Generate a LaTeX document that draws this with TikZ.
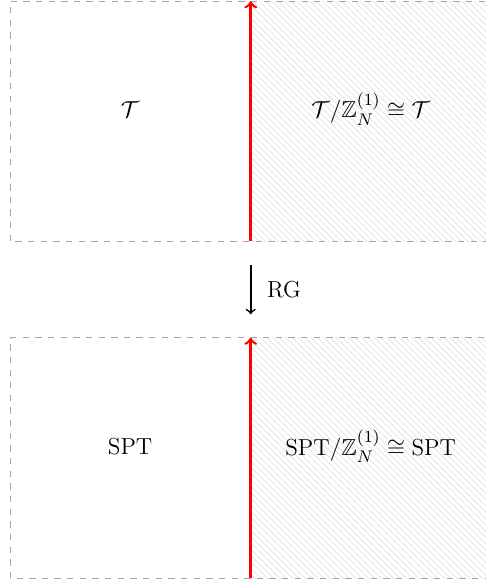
\documentclass[tikz,border=0pt]{standalone}
\usepackage{amsmath,amssymb}
\usetikzlibrary{patterns}

\tikzset{
  frame/.style={gray!70, dashed},
  hatch/.style={pattern=north west lines, pattern color=gray!20},
  wall/.style={->, red, very thick},
  lbl/.style={font=\fontsize{11}{13}\selectfont},
}

\begin{document}
\begin{tikzpicture}
    \useasboundingbox (0, 0) rectangle (8.1, 9.72);
    % upper panel
    \fill [hatch] (4.18, 5.70) rectangle (8.18, 9.70);
    \draw [frame] (0.17, 5.70) rectangle (8.18, 9.70);
    \coordinate (up-s) at (4.18, 5.70);
    \coordinate (up-n) at (4.18, 9.70);
    \draw [wall] (up-s) -- (up-n);
    \node [lbl] (up-l) at (2.17, 7.90) {$\mathcal{T}$};
    \node [lbl] (up-r) at (6.18, 7.90) {$\mathcal{T}/\mathbb{Z}_N^{(1)} \cong \mathcal{T}$};
    % RG flow
    \coordinate (rg-a) at (4.18, 5.30);
    \coordinate (rg-b) at (4.18, 4.48);
    \draw [->, thick] (rg-a) -- (rg-b) node [lbl, midway, right=4pt] (rg) {RG};
    % lower panel
    \fill [hatch] (4.18, 0.08) rectangle (8.18, 4.09);
    \draw [frame] (0.17, 0.08) rectangle (8.18, 4.09);
    \coordinate (lo-s) at (4.18, 0.08);
    \coordinate (lo-n) at (4.18, 4.09);
    \draw [wall] (lo-s) -- (lo-n);
    \node [lbl] (lo-l) at (2.17, 2.28) {SPT};
    \node [lbl] (lo-r) at (6.18, 2.28) {$\text{SPT}/\mathbb{Z}_N^{(1)} \cong \text{SPT}$};
\end{tikzpicture}
\end{document}
